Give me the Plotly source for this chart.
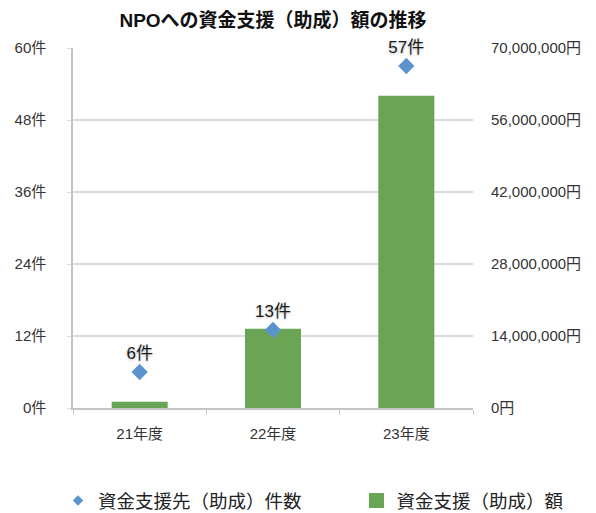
import plotly.graph_objects as go

categories = ["21年度", "22年度", "23年度"]
counts = [6, 13, 57]
amounts = [1200000, 15400000, 60700000]

count_ticks = [0, 12, 24, 36, 48, 60]
amount_ticks = [0, 14000000, 28000000, 42000000, 56000000, 70000000]

count_name = "資金支援先（助成）件数"
amount_name = "資金支援（助成）額"

FONT = "Liberation Sans, Noto Sans CJK JP, sans-serif"
BLUE = "#5b93cf"
GREEN = "#6aa556"

fig = go.Figure()
fig.add_trace(go.Bar(
    x=categories, y=amounts, name=amount_name,
    marker=dict(color=GREEN, line=dict(width=0)),
    width=0.42, yaxis="y", showlegend=False,
))
fig.add_trace(go.Scatter(
    x=categories, y=counts, name=count_name,
    mode="markers+text",
    marker=dict(symbol="diamond", size=12.5, color=BLUE),
    text=[f"{v}件" for v in counts], textposition="top center",
    textfont=dict(family=FONT, size=17, color="#1a1a1a",
                  shadow="0px 1px 3px rgba(0,0,0,0.28)"),
    cliponaxis=False, yaxis="y2", showlegend=False,
))
# legend entries
fig.add_trace(go.Scatter(
    x=[None], y=[None], name=count_name, mode="markers",
    marker=dict(symbol="diamond", size=8, color=BLUE),
    yaxis="y2", legend="legend",
))
fig.add_trace(go.Scatter(
    x=[None], y=[None], name=amount_name, mode="markers",
    marker=dict(symbol="square", size=15, color=GREEN),
    yaxis="y2", legend="legend2",
))

legend_common = dict(orientation="h", xref="container", yref="container",
                     xanchor="left", yanchor="middle", y=(513 - 501) / 513,
                     font=dict(family=FONT, size=18.5, color="#222"),
                     itemsizing="trace", bgcolor="rgba(0,0,0,0)")

fig.update_layout(
    width=596, height=513,
    margin=dict(l=73, r=123, t=47.5, b=104.5, autoexpand=False),
    paper_bgcolor="white", plot_bgcolor="white",
    font=dict(family=FONT, size=15, color="#333"),
    title=dict(text="<b>NPOへの資金支援（助成）額の推移</b>", x=273/596, xanchor="center",
               y=1 - 20/513, yanchor="middle", font=dict(size=19, color="#111")),
    xaxis=dict(type="category", showgrid=False, showline=True, linecolor="#c4c4c4", linewidth=1.5,
               ticks="outside", tickson="boundaries", ticklen=5, tickcolor="#c4c4c4",
               ticklabelstandoff=11, tickfont=dict(size=15), range=[-0.5, 2.5]),
    yaxis=dict(side="right", range=[0, 70000000], tickvals=amount_ticks,
               ticktext=[f"{v:,}円" for v in amount_ticks],
               showgrid=True, gridcolor="#d9d9d9", gridwidth=1.5,
               showline=False, zeroline=False, ticks="", ticklabelstandoff=17,
               tickfont=dict(size=15)),
    yaxis2=dict(side="left", overlaying="y", range=[0, 60], tickvals=count_ticks,
                ticktext=[f"{v}件" for v in count_ticks],
                showgrid=False, showline=True, linecolor="#c4c4c4", linewidth=1.5,
                zeroline=False, ticks="outside", ticklen=4, tickcolor="#d9d9d9",
                ticklabelstandoff=18, tickfont=dict(size=15)),
    legend=dict(x=58 / 596, **legend_common),
    legend2=dict(x=356.5 / 596, **legend_common),
    bargap=0.58,
)

fig.write_html("out.html")
